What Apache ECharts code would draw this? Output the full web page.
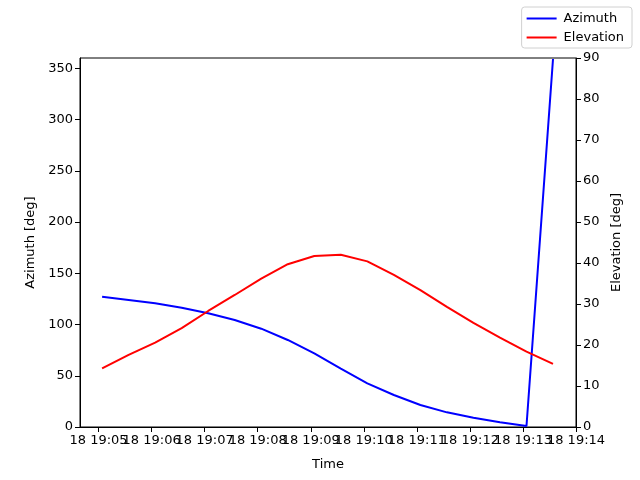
<!DOCTYPE html>
<html>
<head>
<meta charset="utf-8">
<title>Azimuth / Elevation</title>
<script src="https://cdn.jsdelivr.net/npm/echarts@6/dist/echarts.min.js"></script>
<style>
  html, body { margin: 0; padding: 0; background: #fff; }
  #chart { width: 640px; height: 480px; }
</style>
</head>
<body>
<div id="chart"></div>
<script>
(function () {
  'use strict';

  // pass sampled every 30 s, times in seconds after 19:05:00 on the 18th
  var seconds = [4, 34, 64, 94, 124, 154, 184, 214, 244, 274, 304, 334,
    364, 394, 424, 454, 484, 514];
  var azimuth = [127.1, 123.9, 120.7, 116.4, 110.9, 104.4, 95.9, 84.9, 71.9,
    57.0, 42.6, 31.2, 21.5, 14.3, 9.1, 4.6, 1.0, 359.0];
  var elevation = [14.3, 17.6, 20.6, 24.1, 28.3, 32.2, 36.2, 39.7, 41.7,
    42.0, 40.4, 37.1, 33.4, 29.3, 25.4, 21.8, 18.4, 15.4];
  var xTicks = [0, 60, 120, 180, 240, 300, 360, 420, 480, 540];
  var xTickLabels = ['18 19:05', '18 19:06', '18 19:07', '18 19:08', '18 19:09',
    '18 19:10', '18 19:11', '18 19:12', '18 19:13', '18 19:14'];

  function pairs(vals) {
    return seconds.map(function (s, i) { return [s, vals[i]]; });
  }

  var font = 'DejaVu Sans';
  var txt = { color: '#000', fontFamily: font, fontSize: 13 };

  // labels overlap like the original; split them over two stacked axes
  // so echarts does not drop any of them
  function timeAxis(parity) {
    var ticks = xTicks.filter(function (t, i) { return i % 2 === parity; });
    return {
      type: 'value', min: -21, max: 540, position: 'bottom', offset: 0,
      name: parity === 0 ? 'Time' : '', nameLocation: 'middle', nameGap: 31, nameTextStyle: txt,
      axisLine: { onZero: false, lineStyle: { color: '#000' } },
      axisTick: { show: true, length: 5, customValues: ticks, lineStyle: { color: '#000' } },
      axisLabel: {
        color: '#000', fontFamily: font, fontSize: 13, margin: 7, hideOverlap: false,
        showMinLabel: true, showMaxLabel: true,
        customValues: ticks,
        formatter: function (v) { return xTickLabels[xTicks.indexOf(v)]; }
      },
      splitLine: { show: false }
    };
  }

  var myChart = echarts.init(document.getElementById('chart'));
  myChart.setOption({
    animation: false,
    textStyle: { fontFamily: font },
    grid: { left: 80, right: 64, top: 58, bottom: 53, show: true, borderColor: '#000', borderWidth: 1 },
    legend: {
      orient: 'vertical', right: 8, top: 7, padding: [5, 8, 4, 5], itemGap: 6,
      borderColor: '#d0d0d0', borderWidth: 1, borderRadius: 3, backgroundColor: '#fff',
      itemWidth: 30, itemHeight: 2, icon: 'rect',
      textStyle: { color: '#000', fontFamily: font, fontSize: 13, padding: [0, 0, 0, 2] },
      data: ['Azimuth', 'Elevation']
    },
    xAxis: [timeAxis(0), timeAxis(1)],
    yAxis: [{
      type: 'value', min: 0, max: 360, interval: 50,
      name: 'Azimuth [deg]', nameLocation: 'middle', nameGap: 43, nameTextStyle: txt,
      axisLine: { show: true, onZero: false, lineStyle: { color: '#000' } },
      axisTick: { show: true, length: 5, lineStyle: { color: '#000' } },
      axisLabel: { color: '#000', fontFamily: font, fontSize: 13, margin: 7, showMaxLabel: false },
      splitLine: { show: false }
    }, {
      type: 'value', min: 0, max: 90, interval: 10, position: 'right',
      name: 'Elevation [deg]', nameLocation: 'middle', nameGap: 32, nameTextStyle: txt,
      axisLine: { show: true, onZero: false, lineStyle: { color: '#000' } },
      axisTick: { show: true, length: 5, lineStyle: { color: '#000' } },
      axisLabel: { color: '#000', fontFamily: font, fontSize: 13, margin: 7 },
      splitLine: { show: false }
    }],
    series: [{
      name: 'Azimuth', type: 'line', xAxisIndex: 0, yAxisIndex: 0, data: pairs(azimuth),
      showSymbol: false, color: '#0000ff', lineStyle: { width: 2, color: '#0000ff' }
    }, {
      name: 'Elevation', type: 'line', xAxisIndex: 0, yAxisIndex: 1, data: pairs(elevation),
      showSymbol: false, color: '#ff0000', lineStyle: { width: 2, color: '#ff0000' }
    }]
  });
  window.onresize = myChart.resize;
})();
</script>
</body>
</html>
